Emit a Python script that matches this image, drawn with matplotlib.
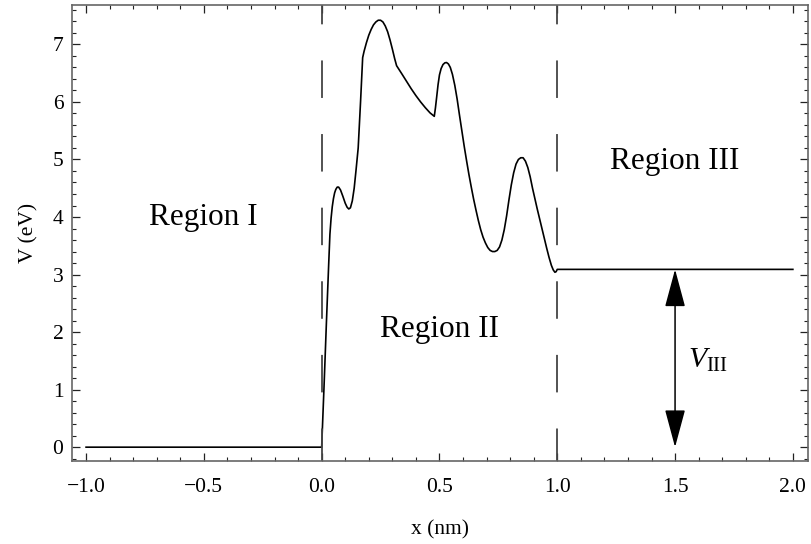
import matplotlib.pyplot as plt
from matplotlib.ticker import MultipleLocator

plt.rcParams['font.family'] = ['Liberation Serif', 'DejaVu Serif']
plt.rcParams['mathtext.fontset'] = 'custom'
plt.rcParams['mathtext.rm'] = 'Liberation Serif'
plt.rcParams['mathtext.it'] = 'Liberation Serif:italic'
plt.rcParams['lines.scale_dashes'] = False

# potential profile V(x)
x_nm = [-1.0, 0.0, 0.01, 0.02, 0.03, 0.035, 0.04, 0.045, 0.05, 0.055, 0.06,
        0.066, 0.072, 0.08, 0.09, 0.10, 0.108, 0.115, 0.122, 0.13, 0.138,
        0.146, 0.155, 0.165, 0.174, 0.18, 0.19, 0.20, 0.21, 0.22, 0.23,
        0.24, 0.25, 0.26, 0.27, 0.28, 0.29, 0.30, 0.31, 0.318,
        0.34, 0.36, 0.38, 0.40, 0.42, 0.44, 0.46, 0.478,
        0.483, 0.488, 0.494, 0.50, 0.507, 0.515, 0.523, 0.53, 0.538, 0.546,
        0.555, 0.565, 0.575, 0.585, 0.595, 0.605, 0.615, 0.625, 0.635, 0.645,
        0.655, 0.665, 0.675, 0.685, 0.695, 0.705, 0.715, 0.725, 0.735, 0.745,
        0.755, 0.765, 0.775, 0.785, 0.795, 0.805, 0.815, 0.825, 0.835, 0.845,
        0.855, 0.865, 0.875, 0.885, 0.895, 0.905, 0.915, 0.925, 0.935, 0.945,
        0.955, 0.965, 0.975, 0.983, 0.99, 0.995, 1.0, 2.0]
V_eV = [0.0, 0.0, 1.05, 2.15, 3.2, 3.7, 3.98, 4.18, 4.32, 4.42, 4.48,
        4.52, 4.52, 4.47, 4.36, 4.24, 4.17, 4.14, 4.16, 4.28, 4.5,
        4.82, 5.2, 6.0, 6.77, 6.88, 7.03, 7.16, 7.26, 7.34, 7.39,
        7.42, 7.42, 7.39, 7.32, 7.22, 7.08, 6.92, 6.75, 6.63,
        6.49, 6.36, 6.23, 6.11, 6.0, 5.9, 5.81, 5.75,
        5.9, 6.08, 6.3, 6.47, 6.58, 6.65, 6.68, 6.685, 6.66, 6.6,
        6.48, 6.29, 6.05, 5.77, 5.5, 5.23, 4.98, 4.74, 4.52, 4.31,
        4.12, 3.94, 3.78, 3.65, 3.55, 3.47, 3.42, 3.40, 3.40, 3.42,
        3.48, 3.6, 3.78, 4.02, 4.3, 4.56, 4.77, 4.92, 5.0, 5.03,
        5.03, 4.97, 4.86, 4.7, 4.5, 4.32, 4.14, 3.97, 3.8, 3.63,
        3.46, 3.3, 3.16, 3.08, 3.04, 3.05, 3.09, 3.09]

boundaries = [0.0, 1.0]
V_III = 3.09
arrow_x = 1.5
region_labels = ['Region I', 'Region II', 'Region III']
region_pos = [(-0.504, 4.0), (0.502, 2.04), (1.50, 4.97)]

fig = plt.figure(figsize=(8.12, 5.44), dpi=100)
ax = fig.add_axes([0.0883, 0.1526, 0.9067, 0.8377])

ax.plot(x_nm, V_eV, color='black', lw=1.2)
for b in boundaries:
    ax.axvline(b, color='#444444', lw=1.3, linestyle=(3.6, (27.0, 26.0)))

ax.annotate('', xy=(arrow_x, V_III), xytext=(arrow_x, 0.0),
            arrowprops=dict(arrowstyle='<|-|>,head_length=1.19,head_width=0.32',
                            color='black', lw=1.1, mutation_scale=20,
                            shrinkA=0, shrinkB=0))
ax.text(1.64, 1.5, r'$V_{\mathrm{III}}$', fontsize=21.5, ha='center', va='center')

for label, (tx, ty) in zip(region_labels, region_pos):
    ax.text(tx, ty, label, fontsize=22.5, ha='center', va='center')

ax.set_xlim(-1.061, 2.064)
ax.set_ylim(-0.24, 7.68)
ax.xaxis.set_major_locator(MultipleLocator(0.5))
ax.xaxis.set_minor_locator(MultipleLocator(0.1))
ax.yaxis.set_major_locator(MultipleLocator(1))
ax.yaxis.set_minor_locator(MultipleLocator(0.2))
ax.set_xticks([-1.0, -0.5, 0.0, 0.5, 1.0, 1.5, 2.0])
ax.set_xticklabels(['\u22121.0', '\u22120.5', '0.0', '0.5', '1.0', '1.5', '2.0'])

ax.tick_params(which='both', direction='in', top=True, right=True,
               color='#222222', labelsize=15.5)
ax.tick_params(which='major', length=6, width=0.9)
ax.tick_params(which='minor', length=3.1, width=0.8)
ax.tick_params(axis='x', pad=12)
ax.tick_params(axis='y', pad=6)
for s in ax.spines.values():
    s.set_color('#666666')
    s.set_linewidth(1.2)

ax.set_xlabel('x (nm)', fontsize=15.5, labelpad=17)
ax.set_ylabel('V (eV)', fontsize=15.5, labelpad=10)

fig.savefig('out.png', dpi=100)
